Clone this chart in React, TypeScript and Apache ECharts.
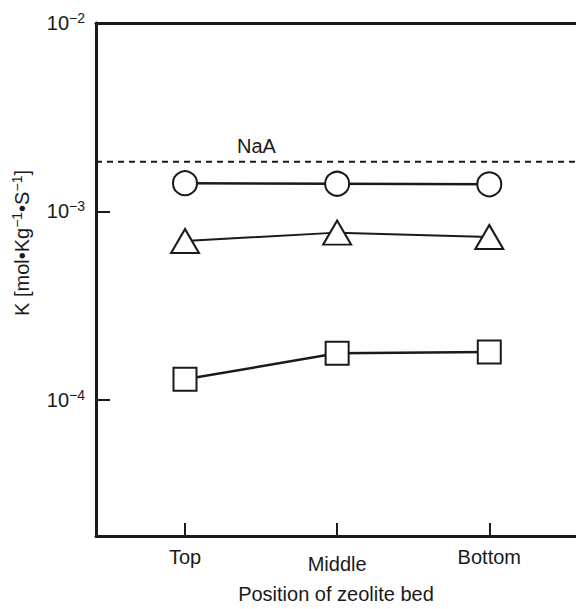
import React, { useEffect, useRef } from "react";
import * as echarts from "echarts";

const categories = ["Top", "Middle", "Bottom"];
const circleValues = [1.41e-3, 1.40e-3, 1.39e-3];
const triangleValues = [6.95e-4, 7.7e-4, 7.3e-4];
const squareValues = [1.28e-4, 1.76e-4, 1.79e-4];
const naaValue = 1.83e-3;
const naaLabel = "NaA";
const yTickExponents = [-4, -3, -2];

const FONT = "'Liberation Sans', Arial, sans-serif";
const X_MIN = 0.415;
const X_MAX = 3.57;
const INK = "#1a1a1a";

export default function App() {
  const ref = useRef<HTMLDivElement>(null);
  useEffect(() => {
    if (!ref.current) return;
    const chart = echarts.init(ref.current, undefined, { renderer: "svg" });
    const pts = (vals: number[]) => vals.map((v, i) => [i + 1, Math.log10(v)]);
    const markerStyle = { color: "#fff", borderColor: INK, borderWidth: 2 };
    chart.setOption({
      animation: false,
      backgroundColor: "#fff",
      textStyle: { fontFamily: FONT },
      grid: { left: 96, right: 0, top: 23, bottom: 62 },
      xAxis: [
        {
          type: "value",
          min: X_MIN,
          max: X_MAX,
          position: "bottom",
          splitLine: { show: false },
          axisLine: { show: true, lineStyle: { color: INK, width: 3 } },
          axisTick: {
            show: true,
            inside: true,
            length: 13,
            lineStyle: { color: INK, width: 2 },
            customValues: [1, 2, 3],
          },
          axisLabel: {
            customValues: [1, 2, 3],
            margin: 11,
            fontSize: 20,
            color: INK,
            fontFamily: FONT,
            formatter: (v: number) => {
              const c = categories[Math.round(v) - 1];
              return Math.round(v) === 2 ? `{m|${c}}` : c;
            },
            rich: { m: { fontSize: 20, fontFamily: FONT, color: INK, padding: [7, 0, 0, 0] } },
          },
          name: "Position of zeolite bed",
          nameLocation: "middle",
          nameGap: 48,
          nameTextStyle: { fontSize: 20, color: INK, fontFamily: FONT },
        },
        {
          type: "value",
          min: X_MIN,
          max: X_MAX,
          position: "top",
          splitLine: { show: false },
          axisLine: { show: true, lineStyle: { color: INK, width: 3 } },
          axisTick: { show: false },
          axisLabel: { show: false },
        },
      ],
      yAxis: {
        type: "value",
        min: -4.725,
        max: -2,
        splitLine: { show: false },
        axisLine: { show: true, lineStyle: { color: INK, width: 3 } },
        axisTick: {
          show: true,
          inside: true,
          length: 14,
          lineStyle: { color: INK, width: 2 },
          customValues: [-4, -3],
        },
        axisLabel: {
          customValues: yTickExponents,
          margin: 11,
          color: INK,
          formatter: (v: number) => `{b|10}{s|−${Math.abs(Math.round(v))}}`,
          rich: {
            b: { fontSize: 20, fontFamily: FONT, color: INK },
            s: { fontSize: 14, fontFamily: FONT, color: INK, verticalAlign: "bottom", padding: [0, 0, 10, 0] },
          },
        },
        name: "{t|K [mol•Kg}{s|−1}{t|•S}{s|−1}{t|]}",
        nameLocation: "middle",
        nameGap: 63,
        nameTextStyle: {
          padding: [0, 0, 0, 73],
          rich: {
            t: { fontSize: 20, fontFamily: FONT, color: INK },
            s: { fontSize: 14, fontFamily: FONT, color: INK, verticalAlign: "bottom", padding: [0, 0, 9, 0] },
          },
        },
      },
      series: [
        {
          type: "line",
          data: [[X_MIN, Math.log10(naaValue)], [X_MAX, Math.log10(naaValue)]],
          symbol: "none",
          lineStyle: { color: INK, width: 2, type: [6, 5] },
          z: 1,
        },
        {
          type: "line",
          data: pts(circleValues),
          symbol: "circle",
          symbolSize: 24,
          lineStyle: { color: INK, width: 2.5 },
          itemStyle: markerStyle,
          z: 3,
        },
        {
          type: "line",
          data: pts(triangleValues),
          symbol: "triangle",
          symbolSize: [28, 24],
          lineStyle: { color: INK, width: 2 },
          itemStyle: markerStyle,
          z: 3,
        },
        {
          type: "line",
          data: pts(squareValues),
          symbol: "rect",
          symbolSize: 23,
          lineStyle: { color: INK, width: 2.5 },
          itemStyle: markerStyle,
          z: 3,
        },
      ],
      graphic: [
        {
          type: "text",
          left: 237,
          top: 136,
          style: { text: naaLabel, fontSize: 20, fontFamily: FONT, fill: INK },
        },
      ],
    });
    return () => chart.dispose();
  }, []);
  return <div ref={ref} style={{ width: 576, height: 609, position: "fixed", left: 0, top: 0 }} />;
}
